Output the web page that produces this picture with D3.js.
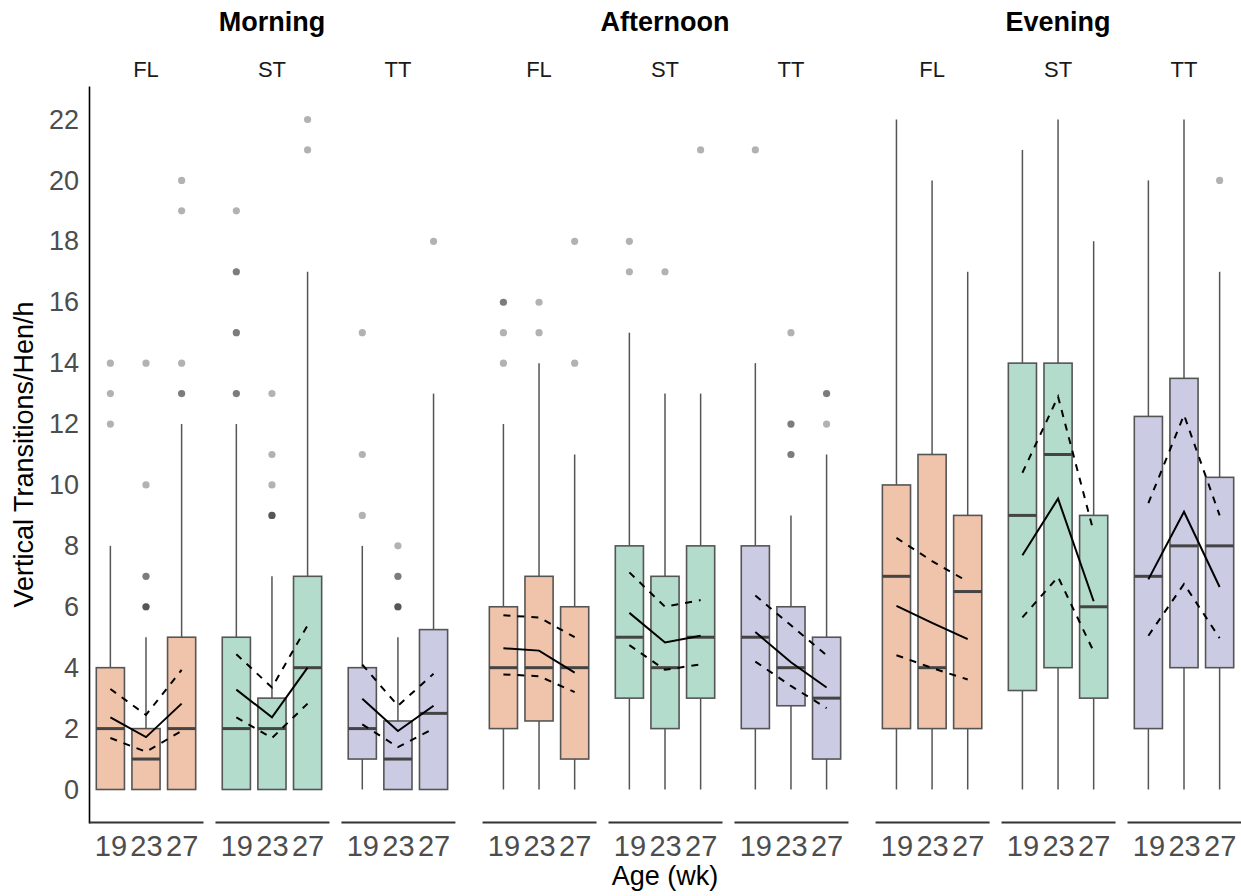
<!DOCTYPE html>
<html>
<head>
<meta charset="utf-8">
<script src="https://cdn.jsdelivr.net/npm/d3@7"></script>
<style>
  html, body { margin: 0; padding: 0; background: #fff; }
  svg { display: block; font-family: "Liberation Sans", Arial, Helvetica, sans-serif; }
</style>
</head>
<body>
<svg id="chart" width="1241" height="896"></svg>
<script>
// Facets and categories
const times = ["Morning", "Afternoon", "Evening"];
const systems = ["FL", "ST", "TT"];
const ages = ["19", "23", "27"];

// Box statistics, ordered time -> system -> age (27 boxes)
const whiskerLow = [
  0, 0, 0,  0, 0, 0,  0, 0, 0,
  0, 0, 0,  0, 0, 0,  0, 0, 0,
  0, 0, 0,  0, 0, 0,  0, 0, 0
];
const q1 = [
  0, 0, 0,  0, 0, 0,  1, 0, 0,
  2, 2.25, 1,  3, 2, 3,  2, 2.75, 1,
  2, 2, 2,  3.25, 4, 3,  2, 4, 4
];
const median = [
  2, 1, 2,  2, 2, 4,  2, 1, 2.5,
  4, 4, 4,  5, 4, 5,  5, 4, 3,
  7, 4, 6.5,  9, 11, 6,  7, 8, 8
];
const q3 = [
  4, 2, 5,  5, 3, 7,  4, 2.25, 5.25,
  6, 7, 6,  8, 7, 8,  8, 6, 5,
  10, 11, 9,  14, 14, 9,  12.25, 13.5, 10.25
];
const whiskerHigh = [
  8, 5, 12,  12, 7, 17,  8, 5, 13,
  12, 14, 11,  15, 13, 13,  14, 9, 11,
  22, 20, 17,  21, 22, 18,  20, 22, 17
];
// Outlying observations (repeated values overlap and darken)
const outliers = [
  [12, 13, 14], [6, 6, 6, 7, 7, 10, 14], [13, 13, 14, 19, 20],
  [13, 13, 15, 15, 17, 17, 19], [9, 9, 9, 10, 11, 13], [21, 22],
  [9, 11, 15], [6, 6, 6, 7, 7, 8], [18],
  [14, 15, 16, 16], [15, 16], [14, 18],
  [17, 18], [17], [21],
  [21], [11, 11, 12, 12, 15], [12, 13, 13],
  [], [], [],
  [], [], [],
  [], [], [20]
];
// Model means with upper and lower confidence limits
const meanVal = [
  2.37, 1.72, 2.82,  3.28, 2.37, 4.0,  2.98, 1.92, 2.75,
  4.64, 4.56, 3.84,  5.8, 4.83, 5.05,  5.17, 4.18, 3.35,
  6.03, 5.47, 4.94,  7.69, 9.55, 6.18,  6.9, 9.12, 6.65
];
const upperCI = [
  3.3, 2.45, 3.93,  4.44, 3.35, 5.39,  4.1, 2.75, 3.8,
  5.72, 5.65, 5.0,  7.13, 6.0, 6.22,  6.37, 5.39, 4.41,
  8.26, 7.5, 6.83,  10.4, 12.9, 8.46,  9.4, 12.3, 9.0
];
const lowerCI = [
  1.69, 1.24, 1.92,  2.37, 1.69, 2.82,  2.14, 1.39, 2.0,
  3.78, 3.72, 3.2,  4.74, 3.93, 4.11,  4.2, 3.4, 2.67,
  4.41, 3.99, 3.61,  5.65, 6.98, 4.53,  5.05, 6.75, 4.97
];
const yTicks = [0, 2, 4, 6, 8, 10, 12, 14, 16, 18, 20, 22];
const fills = { FL: "#efc4aa", ST: "#b3dccd", TT: "#cbcbe3" };

const svg = d3.select("#chart");

// Scales
const y = d3.scaleLinear().domain([-1.1, 23.1]).range([823, 86]);
const groupX = d3.scaleBand().domain(times).range([89, 1241]).paddingInner(0.069).paddingOuter(0);
const panelX = d3.scaleBand().domain(systems).range([0, groupX.bandwidth()]).paddingInner(0.095);
const ageX = d3.scalePoint().domain(ages).range([0, panelX.bandwidth()]).padding(0.6);
const boxW = ageX.step() * 0.79;

const idx = (ti, si, ai) => ti * 9 + si * 3 + ai;

// Y axis
const yAxis = svg.append("g")
  .attr("transform", `translate(${groupX(times[0])},0)`)
  .call(d3.axisLeft(y).tickValues(yTicks).tickSize(0).tickPadding(10));
yAxis.select(".domain").attr("stroke", "#000").attr("stroke-width", 1.6);
yAxis.selectAll("text").attr("font-size", 27).attr("fill", "#4d4d4d")
  .attr("font-family", "Liberation Sans, Arial, sans-serif");

times.forEach((t, ti) => {
  const gx = groupX(t);
  // Time-of-day heading
  svg.append("text")
    .attr("x", gx + groupX.bandwidth() / 2).attr("y", 31)
    .attr("text-anchor", "middle").attr("font-size", 27).attr("font-weight", "bold")
    .attr("fill", "#000").text(t);

  systems.forEach((s, si) => {
    const px = gx + panelX(s);
    const panel = svg.append("g").attr("transform", `translate(${px},0)`);

    // Strip label
    panel.append("text")
      .attr("x", panelX.bandwidth() / 2).attr("y", 77)
      .attr("text-anchor", "middle").attr("font-size", 22).attr("fill", "#1a1a1a").text(s);

    // Bottom axis
    const xa = panel.append("g").attr("transform", "translate(0,822)")
      .call(d3.axisBottom(ageX).tickSize(0).tickSizeOuter(0).tickPadding(13));
    xa.select(".domain").attr("stroke", "#333").attr("stroke-width", 1.8);
    xa.selectAll("text").attr("font-size", 29).attr("fill", "#4d4d4d")
      .attr("font-family", "Liberation Sans, Arial, sans-serif");

    const rows = ages.map((a, ai) => {
      const i = idx(ti, si, ai);
      return { a, lo: whiskerLow[i], q1: q1[i], med: median[i], q3: q3[i], hi: whiskerHigh[i],
               out: outliers[i], mean: meanVal[i], up: upperCI[i], dn: lowerCI[i] };
    });

    // Whiskers
    panel.selectAll("line.whisker-hi").data(rows).join("line")
      .attr("x1", d => ageX(d.a)).attr("x2", d => ageX(d.a))
      .attr("y1", d => y(d.q3)).attr("y2", d => y(d.hi))
      .attr("stroke", "#555").attr("stroke-width", 1.5);
    panel.selectAll("line.whisker-lo").data(rows).join("line")
      .attr("x1", d => ageX(d.a)).attr("x2", d => ageX(d.a))
      .attr("y1", d => y(d.q1)).attr("y2", d => y(d.lo))
      .attr("stroke", "#555").attr("stroke-width", 1.5);

    // Boxes
    panel.selectAll("rect.box").data(rows).join("rect")
      .attr("x", d => ageX(d.a) - boxW / 2).attr("width", boxW)
      .attr("y", d => y(d.q3)).attr("height", d => y(d.q1) - y(d.q3))
      .attr("fill", fills[s]).attr("stroke", "#555").attr("stroke-width", 1.6);

    // Medians
    panel.selectAll("line.median").data(rows).join("line")
      .attr("x1", d => ageX(d.a) - boxW / 2).attr("x2", d => ageX(d.a) + boxW / 2)
      .attr("y1", d => y(d.med)).attr("y2", d => y(d.med))
      .attr("stroke", "#444").attr("stroke-width", 3);

    // Outliers
    rows.forEach(d => {
      panel.selectAll(null).data(d.out).join("circle")
        .attr("cx", ageX(d.a)).attr("cy", v => y(v)).attr("r", 3.6)
        .attr("fill", "#000").attr("fill-opacity", 0.3);
    });

    // Mean line with confidence limits
    const line = key => d3.line().x(d => ageX(d.a)).y(d => y(d[key]));
    panel.append("path").attr("d", line("mean")(rows))
      .attr("fill", "none").attr("stroke", "#000").attr("stroke-width", 2);
    ["up", "dn"].forEach(k => {
      panel.append("path").attr("d", line(k)(rows))
        .attr("fill", "none").attr("stroke", "#000").attr("stroke-width", 2)
        .attr("stroke-dasharray", "7,7");
    });
  });
});

// Axis titles
svg.append("text")
  .attr("x", 665).attr("y", 885).attr("text-anchor", "middle")
  .attr("font-size", 27).attr("fill", "#000").text("Age (wk)");
svg.append("text")
  .attr("transform", `translate(33,${(86 + 823) / 2}) rotate(-90)`)
  .attr("text-anchor", "middle").attr("font-size", 27).attr("fill", "#000")
  .text("Vertical Transitions/Hen/h");
</script>
</body>
</html>
